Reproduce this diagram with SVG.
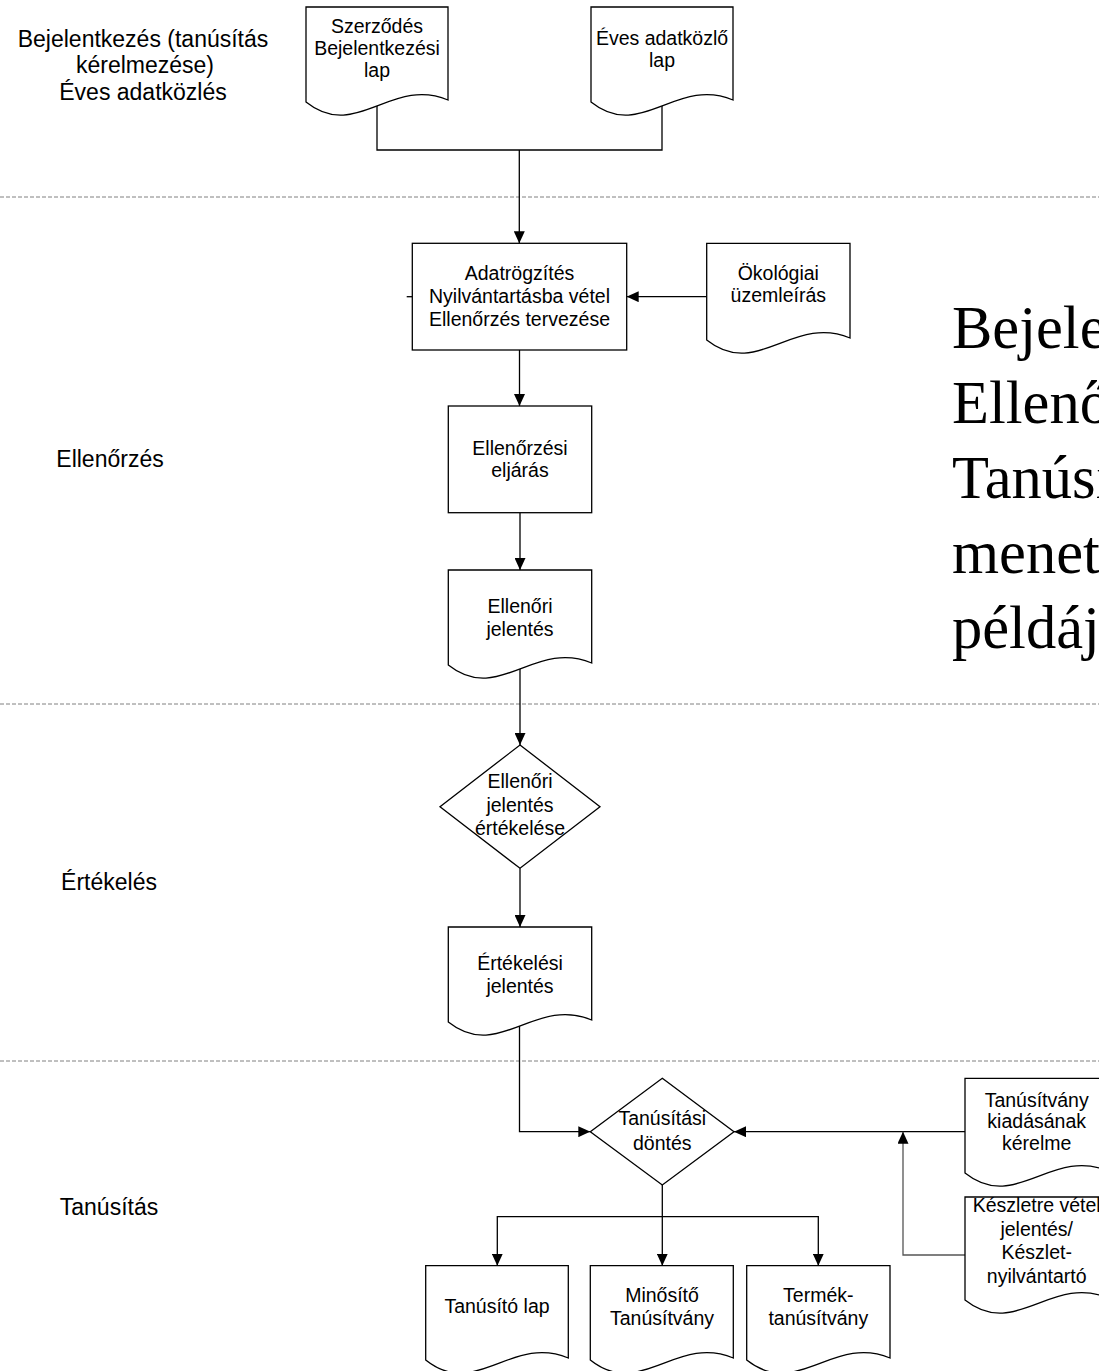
<svg xmlns="http://www.w3.org/2000/svg" width="1099" height="1371" viewBox="0 0 1099 1371">
<style>
  .sh { fill: #fff; stroke: #000; stroke-width: 1.3; }
  .cn { fill: none; stroke: #000; stroke-width: 1.3; }
  .cg { fill: none; stroke: #555; stroke-width: 1.3; }
  .ln { fill: none; stroke: #808080; stroke-width: 1; stroke-dasharray: 4 2; }
  .t { font-family: "Liberation Sans", Arial, sans-serif; font-size: 19.5px; fill: #000; text-anchor: middle; }
  .lane { font-family: "Liberation Sans", Arial, sans-serif; font-size: 23px; fill: #000; text-anchor: middle; }
  .title { font-family: "Liberation Serif", "Times New Roman", serif; font-size: 60.5px; fill: #000; }
</style>
<defs>
  <marker id="ah" markerUnits="userSpaceOnUse" markerWidth="12" markerHeight="11" refX="12" refY="5.5" orient="auto" viewBox="0 0 12 11">
    <path d="M0,0 L12,5.5 L0,11 Z" fill="#000"/>
  </marker>
</defs>
<rect width="1099" height="1371" fill="#fff"/>

<g id="lanes">
  <line class="ln" x1="0" y1="197" x2="1099" y2="197"/>
  <line class="ln" x1="0" y1="704" x2="1099" y2="704"/>
  <line class="ln" x1="0" y1="1061" x2="1099" y2="1061"/>
  <text class="lane" x="143" y="47">Bejelentkezés (tanúsítás</text>
  <text class="lane" x="145" y="73">kérelmezése)</text>
  <text class="lane" x="143" y="100">Éves adatközlés</text>
  <text class="lane" x="110" y="467">Ellenőrzés</text>
  <text class="lane" x="109" y="890">Értékelés</text>
  <text class="lane" x="109" y="1215">Tanúsítás</text>
</g>

<g id="title">
  <text class="title" x="952" y="348">Bejelentkezés</text>
  <text class="title" x="952" y="423">Ellenőrzés</text>
  <text class="title" x="952" y="498">Tanúsítás</text>
  <text class="title" x="952" y="573">menete</text>
  <text class="title" x="952" y="648">példája</text>
</g>

<g id="connectors">
  <path class="cn" d="M377,102 V150 H662 V101"/>
  <path class="cn" d="M519.3,150 V243.3" marker-end="url(#ah)"/>
  <path class="cn" d="M706.7,296.7 H626.7" marker-end="url(#ah)"/>
  <path class="cn" d="M406.7,296.7 H412.3"/>
  <path class="cn" d="M519.5,350 V406" marker-end="url(#ah)"/>
  <path class="cn" d="M520,512.7 V570" marker-end="url(#ah)"/>
  <path class="cn" d="M520,665 V745" marker-end="url(#ah)"/>
  <path class="cn" d="M520,868.3 V927" marker-end="url(#ah)"/>
  <path class="cn" d="M519.5,1022 V1131.7 H590.3" marker-end="url(#ah)"/>
  <path class="cn" d="M965,1131.7 H734" marker-end="url(#ah)"/>
  <path class="cg" d="M965,1255 H903 V1131.7" marker-end="url(#ah)"/>
  <path class="cn" d="M662.3,1185 V1265.7" marker-end="url(#ah)"/>
  <path class="cn" d="M662.3,1216.7 H497.3 V1265.7" marker-end="url(#ah)"/>
  <path class="cn" d="M662.3,1216.7 H818.3 V1265.7" marker-end="url(#ah)"/>
</g>

<g id="n-szerzodes">
  <path class="sh" d="M306,7 H448 V100 C391.2,76 355.7,142 306,102 Z"/>
  <text class="t" x="377" y="33">Szerződés</text>
  <text class="t" x="377" y="55">Bejelentkezési</text>
  <text class="t" x="377" y="77">lap</text>
</g>

<g id="n-eves">
  <path class="sh" d="M591,7 H733 V100 C676.2,76 640.7,142 591,102 Z"/>
  <text class="t" x="662" y="45">Éves adatközlő</text>
  <text class="t" x="662" y="67">lap</text>
</g>

<g id="n-adatrogzites">
  <rect class="sh" x="412.3" y="243.3" width="214.4" height="106.7"/>
  <text class="t" x="519.5" y="280">Adatrögzítés</text>
  <text class="t" x="519.5" y="303">Nyilvántartásba vétel</text>
  <text class="t" x="519.5" y="326">Ellenőrzés tervezése</text>
</g>

<g id="n-okologiai">
  <path class="sh" d="M706.7,243.3 H850 V338 C792.7,314 756.9,380 706.7,340 Z"/>
  <text class="t" x="778.3" y="279.5">Ökológiai</text>
  <text class="t" x="778.3" y="302">üzemleírás</text>
</g>

<g id="n-ellenorzesi">
  <rect class="sh" x="448.3" y="406" width="143.4" height="106.7"/>
  <text class="t" x="520" y="455">Ellenőrzési</text>
  <text class="t" x="520" y="477">eljárás</text>
</g>

<g id="n-ellenori">
  <path class="sh" d="M448.3,570 H591.7 V663 C534.3,639 498.5,705 448.3,665 Z"/>
  <text class="t" x="520" y="613">Ellenőri</text>
  <text class="t" x="520" y="636">jelentés</text>
</g>

<g id="n-ertekeles-dontes">
  <path class="sh" d="M520,745 L600,806.7 L520,868.3 L440,806.7 Z"/>
  <text class="t" x="520" y="788">Ellenőri</text>
  <text class="t" x="520" y="811.5">jelentés</text>
  <text class="t" x="520" y="835">értékelése</text>
</g>

<g id="n-ertekelesi">
  <path class="sh" d="M448.3,927 H591.7 V1020 C534.3,996 498.5,1062 448.3,1022 Z"/>
  <text class="t" x="520" y="970">Értékelési</text>
  <text class="t" x="520" y="993">jelentés</text>
</g>

<g id="n-tanusitasi-dontes">
  <path class="sh" d="M662.3,1078.3 L734,1131.7 L662.3,1185 L590.3,1131.7 Z"/>
  <text class="t" x="662.3" y="1125">Tanúsítási</text>
  <text class="t" x="662.3" y="1150">döntés</text>
</g>

<g id="n-tanusitvany-kerelem">
  <path class="sh" d="M965,1078.3 H1108.3 V1171 C1051,1147 1015.2,1213 965,1173 Z"/>
  <text class="t" x="1036.7" y="1106.7">Tanúsítvány</text>
  <text class="t" x="1036.7" y="1128.3">kiadásának</text>
  <text class="t" x="1036.7" y="1150">kérelme</text>
</g>

<g id="n-keszlet">
  <path class="sh" d="M965,1197 H1108.3 V1298 C1051,1274 1015.2,1340 965,1300 Z"/>
  <text class="t" x="1036.7" y="1212">Készletre vétel</text>
  <text class="t" x="1036.7" y="1236">jelentés/</text>
  <text class="t" x="1036.7" y="1259">Készlet-</text>
  <text class="t" x="1036.7" y="1283">nyilvántartó</text>
</g>

<g id="n-tanusito-lap">
  <path class="sh" d="M425.7,1265.7 H568.3 V1358 C511.3,1334 475.6,1400 425.7,1360 Z"/>
  <text class="t" x="497" y="1313">Tanúsító lap</text>
</g>

<g id="n-minosito">
  <path class="sh" d="M590.3,1265.7 H733.3 V1358 C676.1,1334 640.4,1400 590.3,1360 Z"/>
  <text class="t" x="662" y="1302">Minősítő</text>
  <text class="t" x="662" y="1325">Tanúsítvány</text>
</g>

<g id="n-termek">
  <path class="sh" d="M746.7,1265.7 H890 V1358 C832.7,1334 796.9,1400 746.7,1360 Z"/>
  <text class="t" x="818.3" y="1302">Termék-</text>
  <text class="t" x="818.3" y="1325">tanúsítvány</text>
</g>
</svg>
